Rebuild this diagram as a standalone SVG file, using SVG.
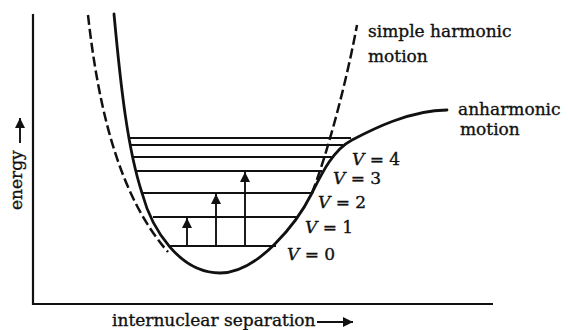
<svg xmlns="http://www.w3.org/2000/svg" width="568" height="330" viewBox="0 0 568 330">
<defs>
<style>
.ax{stroke:#111;stroke-width:2.2;fill:none}
.curve{stroke:#111;stroke-width:2.8;fill:none;stroke-linecap:round}
.dash{stroke:#111;stroke-width:2.5;fill:none;stroke-dasharray:10 4}
.lvl{stroke:#111;stroke-width:1.9}
.arr{stroke:#111;stroke-width:1.9;fill:none}
text{font-family:"DejaVu Serif","Liberation Serif",serif;font-size:17px;fill:#111;stroke:#111;stroke-width:0.35}
.v{font-style:italic}
</style>
<marker id="ah" viewBox="0 0 10 10" refX="10" refY="5" markerWidth="10" markerHeight="10" markerUnits="userSpaceOnUse" orient="auto">
<path d="M0,0 L10,5 L0,10 Z" fill="#111"/>
</marker>
</defs>
<rect width="568" height="330" fill="#fff"/>
<g id="axes">
<path class="ax" d="M33,14 V304 H493"/>
<line class="arr" x1="20" y1="143" x2="20" y2="118" marker-end="url(#ah)"/>
<line class="arr" x1="317" y1="322" x2="353" y2="322" marker-end="url(#ah)"/>
<text id="ylabel" transform="translate(22,210) rotate(-90)">energy</text>
<text id="xlabel" x="112" y="326">internuclear separation</text>
</g>
<g id="connectors">
<path id="morse" class="curve" d="M114,14 C121,90 128,150 142,193 C152,230 180,273 220,273 C258,273 297,223 312,193 C322,173 333,150 352,140 C371,130 410,110 447,110"/>
<path id="harmonic-left" class="dash" d="M88,15 C98,105 118,195 168,252"/>
<path id="harmonic-right" class="dash" d="M312,193 C325,160 345,90 357,25"/>
</g>
<g id="levels">
<line class="lvl" x1="168" y1="246" x2="276" y2="246"/>
<line class="lvl" x1="153" y1="217" x2="297" y2="217"/>
<line class="lvl" x1="142" y1="193" x2="312" y2="193"/>
<line class="lvl" x1="137" y1="171" x2="322" y2="171"/>
<line class="lvl" x1="132" y1="157" x2="333" y2="157"/>
<line class="lvl" x1="129" y1="145" x2="343" y2="145"/>
<line class="lvl" x1="128" y1="138" x2="351" y2="138"/>
</g>
<g id="transitions">
<line class="arr" x1="187" y1="246" x2="187" y2="218" marker-end="url(#ah)"/>
<line class="arr" x1="216" y1="246" x2="216" y2="194" marker-end="url(#ah)"/>
<line class="arr" x1="245" y1="246" x2="245" y2="172" marker-end="url(#ah)"/>
</g>
<g id="labels">
<text x="368" y="37">simple harmonic</text>
<text x="368" y="62">motion</text>
<text x="458" y="115">anharmonic</text>
<text x="460" y="135">motion</text>
<text x="352" y="165"><tspan class="v">V</tspan> = 4</text>
<text x="333" y="184"><tspan class="v">V</tspan> = 3</text>
<text x="318" y="208"><tspan class="v">V</tspan> = 2</text>
<text x="305" y="233"><tspan class="v">V</tspan> = 1</text>
<text x="287" y="260"><tspan class="v">V</tspan> = 0</text>
</g>
</svg>
